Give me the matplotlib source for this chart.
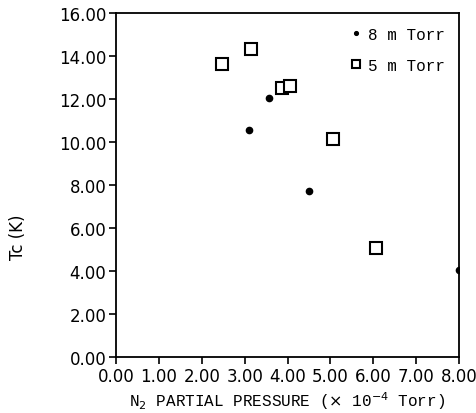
import matplotlib
matplotlib.use("Agg")
import matplotlib.pyplot as plt

# 8 m Torr series (filled dots)
p8 = [3.10, 3.57, 4.50, 8.00]
tc8 = [10.55, 12.05, 7.72, 4.05]

# 5 m Torr series (open squares)
p5 = [2.47, 3.15, 3.87, 4.06, 5.06, 6.06]
tc5 = [13.63, 14.32, 12.50, 12.60, 10.14, 5.07]

xticks = [0, 1, 2, 3, 4, 5, 6, 7, 8]
yticks = [0, 2, 4, 6, 8, 10, 12, 14, 16]

fig = plt.figure(figsize=(4.76, 4.14), dpi=100)
ax = fig.add_axes([0.2437, 0.1353, 0.7206, 0.8307])

ax.plot(p8, tc8, 'o', color='black', markersize=4.5, label='8 m Torr')
ax.plot(p5, tc5, 's', markerfacecolor='white', markeredgecolor='black',
        markeredgewidth=1.5, markersize=9, label='5 m Torr')

ax.set_xlim(0, 8)
ax.set_ylim(0, 16)
ax.set_xticks(xticks)
ax.set_yticks(yticks)
ax.set_xticklabels(['%.2f' % v for v in xticks], family='DejaVu Sans', fontsize=12)
ax.set_yticklabels(['%.2f' % v for v in yticks], family='DejaVu Sans', fontsize=12)
ax.tick_params(direction='out', length=5, width=1.2, pad=2)
for s in ax.spines.values():
    s.set_linewidth(1.3)

ax.set_xlabel(r'N$_2$ PARTIAL PRESSURE ($\times$ 10$^{-4}$ Torr)',
              family='Liberation Mono', fontsize=11.5, labelpad=3)
ax.set_ylabel('Tc (K)', family='DejaVu Sans', fontsize=12)
ax.yaxis.set_label_coords(-0.26, 0.35)

leg = ax.legend(loc='upper right', frameon=False, prop={'family': 'Liberation Mono', 'size': 11.5},
                handletextpad=0.3, handlelength=0.9, markerscale=0.6, borderaxespad=0.45,
                labelspacing=1.0)

fig.savefig('out.png', dpi=100)
